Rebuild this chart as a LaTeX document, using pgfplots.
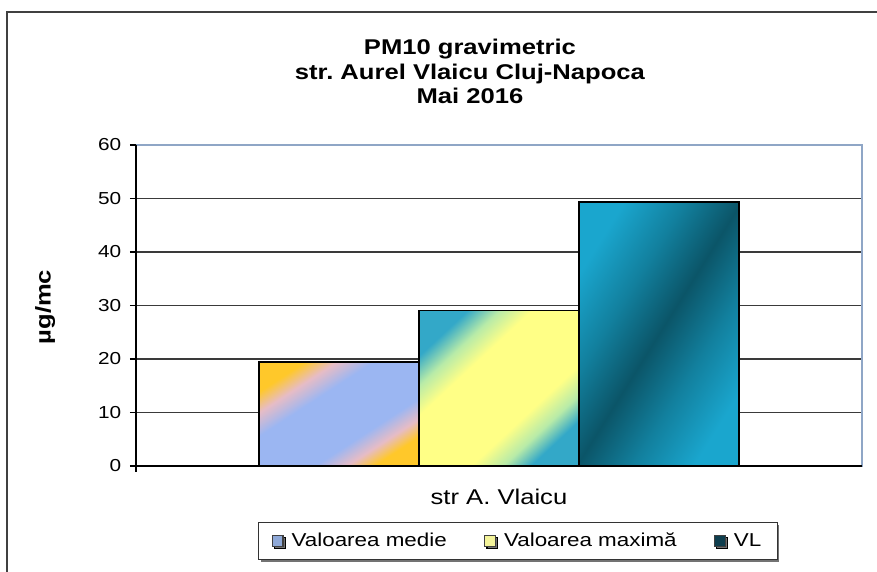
\documentclass[border=0pt]{standalone}
\usepackage{fontspec}
\setmainfont{Liberation Sans}[FakeStretch=1.2]
\usepackage{pgfplots}
\pgfplotsset{compat=1.18}
\usetikzlibrary{shadows}

\definecolor{mgold}{HTML}{FFC82A}
\definecolor{mpink}{HTML}{E6BCC6}
\definecolor{mblue}{HTML}{9BB6F2}
\definecolor{xteal}{HTML}{33A8C8}
\definecolor{xmint}{HTML}{B8EBA8}
\definecolor{xyell}{HTML}{FFFF86}
\definecolor{vlite}{HTML}{1AA6CE}
\definecolor{vmid}{HTML}{12809E}
\definecolor{vdark}{HTML}{0B5568}
\definecolor{plotbrd}{HTML}{8FA6C6}
\definecolor{gridc}{HTML}{3A3A3A}
\definecolor{legmed}{HTML}{8FA9D8}
\definecolor{legmax}{HTML}{F4F49A}
\definecolor{legvl}{HTML}{0E3E4E}

\pgfdeclarehorizontalshading{medie}{100bp}{color(0bp)=(mgold); color(25bp)=(mgold);
  color(32bp)=(mpink); color(40bp)=(mblue); color(62bp)=(mblue); color(69bp)=(mpink);
  color(75bp)=(mgold); color(100bp)=(mgold)}
\pgfdeclarehorizontalshading{maxima}{100bp}{color(0bp)=(xteal); color(25bp)=(xteal);
  color(32bp)=(xmint); color(39bp)=(xyell); color(62bp)=(xyell); color(69bp)=(xmint);
  color(75bp)=(xteal); color(100bp)=(xteal)}
\pgfdeclarehorizontalshading{vlshade}{100bp}{color(0bp)=(vlite); color(25bp)=(vlite);
  color(38bp)=(vmid); color(50bp)=(vdark); color(62bp)=(vmid);
  color(75bp)=(vlite); color(100bp)=(vlite)}

\pgfplotsset{legsq/.style={legend image code/.code={%
  \draw[black!75, line width=0.9pt, fill=#1] (0pt,-4pt) rectangle (8pt,4pt);}}}

\begin{document}
\begin{tikzpicture}
\begin{axis}[
  scale only axis,
  width=544.5pt,
  height=240.75pt,
  ybar=0pt,
  bar width=120pt,
  xmin=-1, xmax=1,
  ymin=0, ymax=60,
  xtick={0},
  xticklabels={str A. Vlaicu},
  major x tick style={draw=none},
  xticklabel style={font=\fontsize{16}{18}\selectfont, yshift=-9pt},
  ytick={0,10,...,50},
  extra y ticks={60},
  extra y tick style={grid=none},
  ytick pos=left,
  xtick pos=bottom,
  yticklabel style={font=\fontsize{13}{15}\selectfont, xshift=-3pt},
  /pgf/number format/assume math mode=true,
  tick align=outside,
  major tick length=4.5pt,
  tick style={black, line width=0.8pt},
  ymajorgrids,
  grid style={gridc, line width=0.8pt},
  axis line style={plotbrd, line width=0.9pt},
  ylabel={µg/mc},
  ylabel style={font=\bfseries\fontsize{16}{18}\selectfont, at={(axis description cs:-0.125,0.495)}, anchor=center},
  legend columns=3,
  legend style={at={(axis description cs:0.526,-0.2336)}, anchor=center,
    draw=black!80, line width=0.9pt, fill=white,
    drop shadow={shadow xshift=1.6pt, shadow yshift=-1.6pt, fill=black!55, opacity=1},
    font=\fontsize{14}{16}\selectfont, inner xsep=10pt, inner ysep=6pt,
    /tikz/every odd column/.append style={column sep=4pt},
    /tikz/every even column/.append style={column sep=26pt}},
]
\addplot[forget plot, bar shift=-120pt, draw=black, line width=1.2pt, shading=medie, shading angle=-57]
  coordinates {(0,19.4)};
\addplot[forget plot, bar shift=0pt, draw=black, line width=1.2pt, shading=maxima, shading angle=-47]
  coordinates {(0,29.1)};
\addplot[forget plot, bar shift=120pt, draw=black, line width=1.2pt, shading=vlshade, shading angle=-32]
  coordinates {(0,49.4)};
\addlegendimage{legsq=legmed}
\addlegendentry{Valoarea medie}
\addlegendimage{legsq=legmax}
\addlegendentry{Valoarea maximă}
\addlegendimage{legsq=legvl}
\addlegendentry{VL}
\coordinate (ax00) at (rel axis cs:0,0);
\coordinate (ax01) at (rel axis cs:0,1);
\coordinate (ax10) at (rel axis cs:1,0);
\coordinate (ttl) at (rel axis cs:0.46,1.330);
\coordinate (bl) at (rel axis cs:-0.1873,-0.3302);
\coordinate (tr) at (rel axis cs:1.0207,1.4517);
\coordinate (fbl) at (rel axis cs:-0.1777,-0.40);
\coordinate (ftr) at (rel axis cs:1.05,1.4143);
\end{axis}
\draw[black, line width=1pt] (ax01) -- (ax00) -- (ax10);
\draw[black, line width=0.8pt] (ax00) -- ++(0,-4.5pt);
\node[anchor=north, align=center, inner sep=0pt, font=\bfseries\fontsize{16}{18.4}\selectfont]
  at (ttl) {PM10 gravimetric\\str.\ Aurel Vlaicu Cluj-Napoca\\Mai 2016};
\draw[black!75, line width=1pt] (fbl) rectangle (ftr);
\pgfresetboundingbox
\path[use as bounding box] (bl) rectangle (tr);
\end{tikzpicture}
\end{document}
